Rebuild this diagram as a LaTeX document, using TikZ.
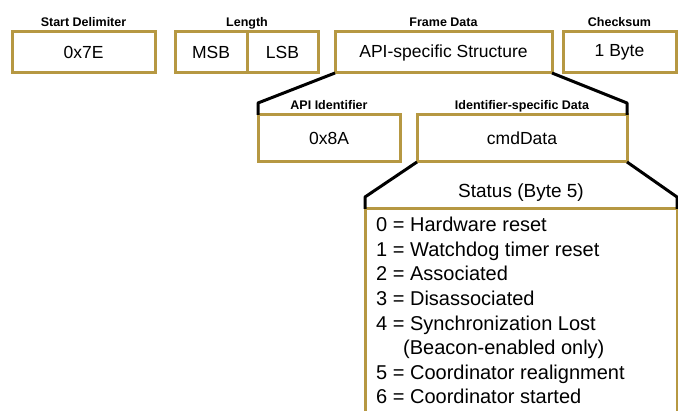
\documentclass[tikz,border=0pt]{standalone}
\usepackage{fontspec}
\setmainfont{Liberation Sans}
\usepackage{xcolor}
\definecolor{gold}{RGB}{182, 152, 66}
\usetikzlibrary{positioning}

\begin{document}
\begin{tikzpicture}[
    x=1pt, y=-1pt,
    node distance=20pt,
    field/.style={draw=gold, line width=3pt, fill=white, outer sep=0pt, inner sep=0pt, minimum height=41pt, font=\fontsize{17.5}{20}\selectfont},
    subfield/.style={field, minimum height=47pt},
    caption/.style={inner sep=0pt, text height=9pt, text depth=2.5pt, font=\bfseries\fontsize{12.5}{14}\selectfont},
    zoom/.style={draw=black, line width=3pt, line join=round}
]

\clip (0,0) rectangle (678,411);

% ==================== API FRAME ====================
\node[field, minimum width=143pt] (startdel) at (83.5,52.5) {0x7E};
\node[field, minimum width=72pt, right=20pt of startdel] (msb) {MSB};
\node[field, minimum width=71pt, right=0pt of msb] (lsb) {LSB};
\node[field, minimum width=217pt, right=17pt of lsb] (framedata) {API-specific Structure};
\node[field, minimum width=113pt, right=11pt of framedata] (checksum) {1 Byte};

\node[caption, above=3pt of startdel] (startdel_cap) {Start Delimiter};
\node[caption, above=3pt of lsb.north west] (length_cap) {Length};
\node[caption, above=3pt of framedata] (framedata_cap) {Frame Data};
\node[caption, above=3pt of checksum] (checksum_cap) {Checksum};

% ==================== FRAME DATA ====================
\node[subfield, minimum width=142pt] (apiid) at (329,138.5) {0x8A};
\node[subfield, minimum width=210pt, right=17pt of apiid] (idspec) {cmdData};

\node[caption, above=3pt of apiid] (apiid_cap) {API Identifier};
\node[caption, above=3pt of idspec] (idspec_cap) {Identifier-specific Data};

\draw[zoom] (framedata.south west) -- ([yshift=12pt]apiid.north west) -- (apiid.north west);
\draw[zoom] (framedata.south east) -- ([yshift=12pt]idspec.north east) -- (idspec.north east);

% ==================== STATUS BYTE ====================
\node[draw=gold, line width=3pt, fill=white, outer sep=0pt, minimum width=312pt, minimum height=230pt, anchor=north west] (status) at (365,209) {};

\draw[zoom] (idspec.south west) -- ([yshift=12pt]status.north west) -- (status.north west);
\draw[zoom] (idspec.south east) -- ([yshift=12pt]status.north east) -- (status.north east);

\node[inner sep=0pt, text depth=4pt, font=\fontsize{19}{21}\selectfont, above=7pt of status.north] (status_head) {Status (Byte 5)};
\node[inner sep=0pt, align=left, font=\fontsize{20}{24.6}\selectfont, below right=8pt and 11pt of status.north west] (status_list) {
    0 = Hardware reset\\
    1 = Watchdog timer reset\\
    2 = Associated\\
    3 = Disassociated\\
    4 = Synchronization Lost\\
    \hspace*{27pt}(Beacon-enabled only)\\
    5 = Coordinator realignment\\
    6 = Coordinator started
};

\end{tikzpicture}
\end{document}
